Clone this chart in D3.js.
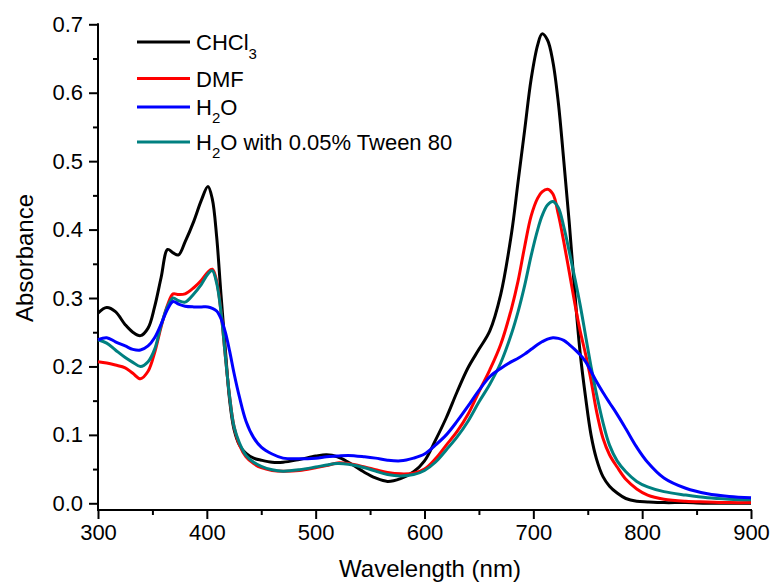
<!DOCTYPE html>
<html>
<head>
<meta charset="utf-8">
<script src="https://cdn.jsdelivr.net/npm/d3@7"></script>
<style>
  html, body { margin: 0; padding: 0; background: #fff; }
  svg { display: block; }
  text { font-family: Arial, "Liberation Sans", sans-serif; fill: #000; }
</style>
</head>
<body>
<svg id="chart" width="772" height="585"></svg>
<script>
// ---- data ----
const wavelength = [300,308,316,325,332,339,346,352,358,364,369,374,380,388,395,401,405,409,413,417,421,425,430,436,443,450,460,470,485,500,510,520,530,545,555,566,578,590,600,610,620,630,640,650,660,670,680,686,692,698,704,708,713,718,723,728,733,738,743,748,753,758,764,770,777,785,795,805,820,840,860,880,900];

const chcl3 = [0.278,0.286,0.280,0.261,0.250,0.245,0.256,0.287,0.330,0.371,0.366,0.363,0.382,0.412,0.443,0.463,0.445,0.390,0.305,0.225,0.150,0.108,0.085,0.073,0.066,0.063,0.060,0.060,0.064,0.069,0.071,0.068,0.060,0.045,0.037,0.032,0.036,0.046,0.062,0.092,0.125,0.163,0.198,0.225,0.252,0.305,0.395,0.470,0.545,0.620,0.670,0.686,0.677,0.645,0.585,0.500,0.410,0.310,0.220,0.155,0.100,0.065,0.039,0.025,0.015,0.007,0.003,0.002,0.001,0.001,0.000,0.000,0.000];

const dmf = [0.207,0.205,0.202,0.198,0.190,0.182,0.193,0.220,0.258,0.290,0.306,0.305,0.306,0.315,0.326,0.338,0.342,0.325,0.280,0.215,0.155,0.112,0.085,0.068,0.058,0.052,0.048,0.047,0.048,0.052,0.055,0.059,0.058,0.053,0.049,0.045,0.043,0.044,0.050,0.065,0.085,0.105,0.130,0.163,0.195,0.232,0.285,0.325,0.375,0.420,0.446,0.455,0.459,0.452,0.422,0.382,0.338,0.293,0.252,0.218,0.180,0.135,0.095,0.071,0.053,0.035,0.021,0.012,0.006,0.003,0.002,0.001,0.001];

const h2o = [0.239,0.242,0.236,0.230,0.225,0.224,0.230,0.242,0.262,0.284,0.295,0.291,0.288,0.287,0.287,0.287,0.285,0.281,0.270,0.250,0.222,0.190,0.155,0.120,0.096,0.082,0.072,0.066,0.065,0.066,0.068,0.069,0.070,0.068,0.066,0.063,0.062,0.066,0.072,0.085,0.100,0.120,0.142,0.165,0.185,0.197,0.207,0.212,0.218,0.225,0.232,0.236,0.240,0.242,0.241,0.238,0.232,0.225,0.217,0.207,0.193,0.178,0.162,0.147,0.130,0.109,0.082,0.060,0.037,0.022,0.014,0.010,0.008];

const tween = [0.239,0.234,0.224,0.213,0.206,0.200,0.207,0.225,0.260,0.288,0.300,0.296,0.294,0.306,0.320,0.335,0.340,0.322,0.280,0.215,0.155,0.112,0.088,0.070,0.060,0.054,0.049,0.047,0.049,0.053,0.056,0.058,0.057,0.052,0.047,0.042,0.040,0.042,0.048,0.060,0.078,0.097,0.120,0.148,0.174,0.205,0.248,0.280,0.318,0.362,0.400,0.420,0.436,0.441,0.432,0.404,0.368,0.330,0.290,0.245,0.200,0.160,0.118,0.085,0.062,0.046,0.032,0.024,0.017,0.012,0.008,0.006,0.005];

const seriesNames = ["CHCl3", "DMF", "H2O", "H2O with 0.05% Tween 80"];
const seriesColors = ["#000000", "#ff0000", "#0000ff", "#008080"];
const xTicks = [300, 400, 500, 600, 700, 800, 900];
const yTicks = [0.0, 0.1, 0.2, 0.3, 0.4, 0.5, 0.6, 0.7];

// ---- chart ----
const svg = d3.select("#chart");
const x = d3.scaleLinear().domain([300, 900]).range([98, 751]);
const y = d3.scaleLinear().domain([-0.0098, 0.7]).range([510, 24.3]);

const fontTick = 22;

// X axis
const xMinor = d3.range(350, 900, 100);
const xAxisMajor = d3.axisBottom(x).tickValues(xTicks).tickFormat(d3.format("d")).tickSize(9).tickSizeOuter(0).tickPadding(5);
const gx = svg.append("g").attr("transform", "translate(0,510)").call(xAxisMajor);
gx.select(".domain").remove();
gx.selectAll(".tick line").attr("stroke", "#000").attr("stroke-width", 2);
gx.selectAll(".tick text").attr("font-size", fontTick).attr("font-family", "Arial, 'Liberation Sans', sans-serif").attr("fill", "#000");
const gxm = svg.append("g").attr("transform", "translate(0,510)")
  .call(d3.axisBottom(x).tickValues(xMinor).tickFormat("").tickSize(5).tickSizeOuter(0));
gxm.select(".domain").remove();
gxm.selectAll(".tick line").attr("stroke", "#000").attr("stroke-width", 2);

// Y axis
const yMinor = d3.range(0.05, 0.7, 0.1);
const gy = svg.append("g").attr("transform", "translate(98,0)")
  .call(d3.axisLeft(y).tickValues(yTicks).tickFormat(d3.format(".1f")).tickSize(9).tickSizeOuter(0).tickPadding(6));
gy.select(".domain").remove();
gy.selectAll(".tick line").attr("stroke", "#000").attr("stroke-width", 2);
gy.selectAll(".tick text").attr("font-size", fontTick).attr("font-family", "Arial, 'Liberation Sans', sans-serif").attr("fill", "#000");
const gym = svg.append("g").attr("transform", "translate(98,0)")
  .call(d3.axisLeft(y).tickValues(yMinor).tickFormat("").tickSize(5).tickSizeOuter(0));
gym.select(".domain").remove();
gym.selectAll(".tick line").attr("stroke", "#000").attr("stroke-width", 2);

// axis lines
svg.append("line").attr("x1", 98).attr("x2", 98).attr("y1", y(0.7) - 1).attr("y2", 511)
  .attr("stroke", "#000").attr("stroke-width", 2);
svg.append("line").attr("x1", 97).attr("x2", x(900) + 1).attr("y1", 510).attr("y2", 510)
  .attr("stroke", "#000").attr("stroke-width", 2);

// Axis titles
svg.append("text").attr("x", 430).attr("y", 577).attr("text-anchor", "middle")
  .attr("font-size", 24).text("Wavelength (nm)");
svg.append("text").attr("transform", "translate(33,258) rotate(-90)").attr("text-anchor", "middle")
  .attr("font-size", 24).text("Absorbance");

// Lines
const allSeries = [chcl3, dmf, tween, h2o];
const allColors = [seriesColors[0], seriesColors[1], seriesColors[3], seriesColors[2]];
const line = d3.line().x((d, i) => x(wavelength[i])).y(d => y(d)).curve(d3.curveCatmullRom.alpha(0.5));
allSeries.forEach((s, k) => {
  svg.append("path").datum(s).attr("d", line).attr("fill", "none")
    .attr("stroke", allColors[k]).attr("stroke-width", 3).attr("stroke-linejoin", "round");
});

// Legend
const legendY = [42, 78.5, 107, 142];
const lg = svg.append("g");
seriesNames.forEach((name, i) => {
  lg.append("line").attr("x1", 137).attr("x2", 190).attr("y1", legendY[i]).attr("y2", legendY[i])
    .attr("stroke", seriesColors[i]).attr("stroke-width", 3);
  const t = lg.append("text").attr("x", 196).attr("y", legendY[i] + 8).attr("font-size", 22);
  if (i === 0) {
    t.append("tspan").text("CHCl");
    t.append("tspan").attr("font-size", 15).attr("dy", 9).text("3");
  } else if (i === 1) {
    t.text("DMF");
  } else {
    t.append("tspan").text("H");
    t.append("tspan").attr("font-size", 15).attr("dy", 8).text("2");
    t.append("tspan").attr("dy", -8).text(i === 2 ? "O" : "O with 0.05% Tween 80");
  }
});
</script>
</body>
</html>
